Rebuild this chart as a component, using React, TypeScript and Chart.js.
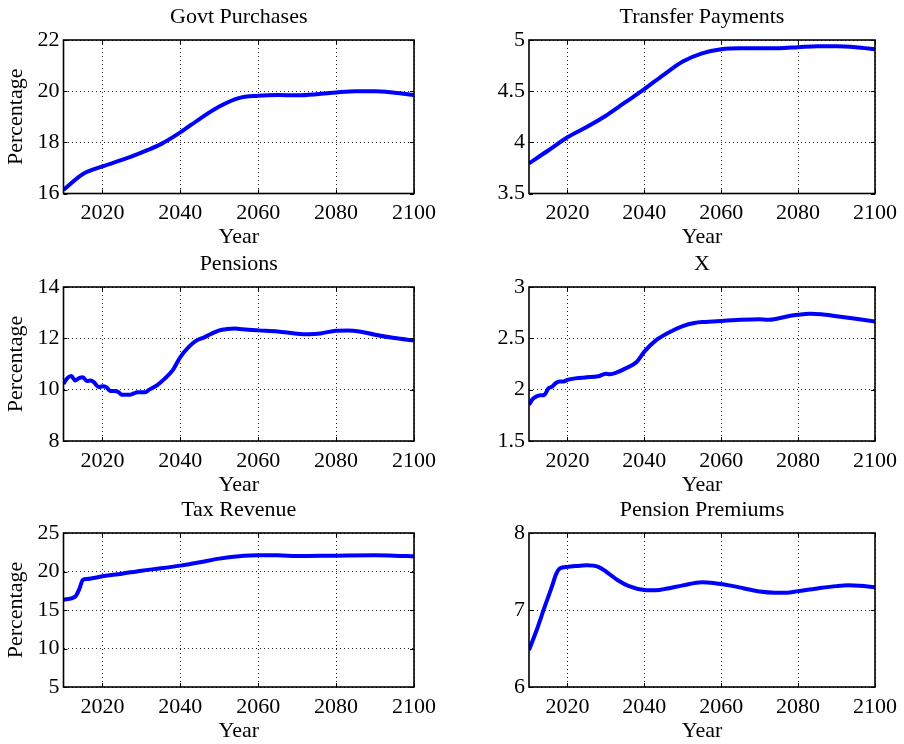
import React, { useEffect, useRef } from "react";
import { Chart, registerables } from "chart.js";

Chart.register(...registerables);

// ---------- data ----------
const xTickValues = [2020, 2040, 2060, 2080, 2100];

const govtYears = [2010, 2015, 2020, 2025, 2030, 2035, 2040, 2045, 2050, 2055, 2060, 2065, 2070, 2075, 2080, 2085, 2090, 2095, 2100];
const govtValues = [16.14, 16.76, 17.06, 17.31, 17.6, 17.93, 18.39, 18.92, 19.4, 19.73, 19.82, 19.85, 19.84, 19.88, 19.95, 20.0, 20.0, 19.94, 19.85];
const govtTicks = [16, 18, 20, 22];

const transferYears = [2010, 2015, 2020, 2025, 2030, 2035, 2040, 2045, 2050, 2055, 2060, 2065, 2070, 2075, 2080, 2085, 2090, 2095, 2100];
const transferValues = [3.795, 3.92, 4.05, 4.15, 4.26, 4.39, 4.52, 4.66, 4.79, 4.87, 4.91, 4.92, 4.92, 4.92, 4.93, 4.94, 4.94, 4.93, 4.91];
const transferTicks = [3.5, 4, 4.5, 5];

const pensionYears = [2010, 2011, 2012, 2013, 2014, 2015, 2016, 2017, 2018, 2019, 2020, 2021, 2022, 2023, 2024, 2025, 2026, 2027, 2028, 2029, 2030, 2031, 2032, 2034, 2036, 2038, 2040, 2042, 2044, 2046, 2048, 2050, 2052, 2054, 2056, 2060, 2065, 2070, 2073, 2076, 2080, 2083, 2086, 2090, 2095, 2100];
const pensionValues = [10.23, 10.45, 10.53, 10.36, 10.45, 10.48, 10.34, 10.36, 10.26, 10.1, 10.13, 10.1, 9.95, 9.95, 9.92, 9.8, 9.8, 9.8, 9.85, 9.9, 9.9, 9.9, 10.0, 10.17, 10.43, 10.75, 11.27, 11.64, 11.9, 12.03, 12.18, 12.31, 12.36, 12.38, 12.35, 12.31, 12.27, 12.18, 12.16, 12.19, 12.3, 12.31, 12.27, 12.14, 12.01, 11.92];
const pensionTicks = [8, 10, 12, 14];

const xYears = [2010, 2011, 2012, 2013, 2014, 2015, 2016, 2017, 2018, 2019, 2020, 2022, 2025, 2028, 2030, 2031, 2033, 2035, 2038, 2040, 2043, 2046, 2050, 2053, 2056, 2060, 2065, 2070, 2072, 2075, 2078, 2080, 2083, 2086, 2090, 2095, 2100];
const xValues = [1.854, 1.91, 1.935, 1.945, 1.95, 2.01, 2.03, 2.065, 2.08, 2.08, 2.095, 2.11, 2.12, 2.13, 2.155, 2.15, 2.17, 2.205, 2.27, 2.37, 2.48, 2.55, 2.62, 2.65, 2.66, 2.67, 2.68, 2.685, 2.68, 2.695, 2.72, 2.73, 2.74, 2.735, 2.715, 2.69, 2.665];
const xSeriesTicks = [1.5, 2, 2.5, 3];

const taxYears = [2010, 2013, 2014, 2015, 2016, 2020, 2025, 2030, 2035, 2040, 2045, 2050, 2055, 2060, 2065, 2070, 2080, 2090, 2095, 2100];
const taxValues = [16.34, 16.73, 17.64, 18.94, 19.03, 19.37, 19.72, 20.11, 20.41, 20.76, 21.19, 21.67, 21.97, 22.1, 22.1, 22.01, 22.06, 22.1, 22.06, 21.97];
const taxTicks = [5, 10, 15, 20, 25];

const premiumYears = [2010, 2012, 2014, 2016, 2017, 2018, 2020, 2022, 2025, 2028, 2030, 2033, 2036, 2040, 2043, 2046, 2050, 2055, 2058, 2062, 2066, 2070, 2074, 2077, 2080, 2085, 2090, 2093, 2096, 2100];
const premiumValues = [6.48, 6.74, 7.03, 7.31, 7.46, 7.54, 7.56, 7.57, 7.58, 7.56, 7.5, 7.39, 7.31, 7.26, 7.255, 7.28, 7.32, 7.36, 7.35, 7.32, 7.28, 7.24, 7.225, 7.225, 7.245, 7.28, 7.31, 7.32, 7.315, 7.295];
const premiumTicks = [6, 7, 8];

// ---------- layout ----------
const W = 904;
const H = 744;
const FONT = '"Liberation Serif", "Times New Roman", serif';
const FS = 22;

type Panel = {
  title: string;
  years: number[];
  values: number[];
  yTicks: number[];
  yLabel: boolean;
  rect: { left: number; right: number; top: number; bottom: number };
};

const LEFT_COL = { left: 63.5, right: 414 };
const RIGHT_COL = { left: 529, right: 879 };
const ROW1 = { top: 40, bottom: 193.5 };
const ROW2 = { top: 287, bottom: 441 };
const ROW3 = { top: 533, bottom: 687 };

const panels: Panel[] = [
  { title: "Govt Purchases", years: govtYears, values: govtValues, yTicks: govtTicks, yLabel: true, rect: { ...LEFT_COL, ...ROW1 } },
  { title: "Transfer Payments", years: transferYears, values: transferValues, yTicks: transferTicks, yLabel: false, rect: { ...RIGHT_COL, ...ROW1 } },
  { title: "Pensions", years: pensionYears, values: pensionValues, yTicks: pensionTicks, yLabel: true, rect: { ...LEFT_COL, ...ROW2 } },
  { title: "X", years: xYears, values: xValues, yTicks: xSeriesTicks, yLabel: false, rect: { ...RIGHT_COL, ...ROW2 } },
  { title: "Tax Revenue", years: taxYears, values: taxValues, yTicks: taxTicks, yLabel: true, rect: { ...LEFT_COL, ...ROW3 } },
  { title: "Pension Premiums", years: premiumYears, values: premiumValues, yTicks: premiumTicks, yLabel: false, rect: { ...RIGHT_COL, ...ROW3 } },
];

const Y_AXIS_W = 60;
const X_AXIS_H = 57;

const framePlugin = {
  id: "frame",
  afterDraw(chart: any, _args: any, opts: any) {
    const { ctx, chartArea } = chart;
    const { left, right, top, bottom } = chartArea;
    const xs = chart.scales.x;
    const ys = chart.scales.y;
    ctx.save();
    ctx.strokeStyle = "#000";
    ctx.lineWidth = 1;
    const tl = 4;
    ctx.beginPath();
    for (const v of xTickValues) {
      const px = Math.round(xs.getPixelForValue(v)) + 0.5;
      ctx.moveTo(px, bottom);
      ctx.lineTo(px, bottom - tl);
      ctx.moveTo(px, top);
      ctx.lineTo(px, top + tl);
    }
    for (const v of opts.yTicks as number[]) {
      const py = Math.round(ys.getPixelForValue(v)) + 0.5;
      ctx.moveTo(left, py);
      ctx.lineTo(left + tl, py);
      ctx.moveTo(right, py);
      ctx.lineTo(right - tl, py);
    }
    ctx.stroke();
    ctx.lineWidth = 1.6;
    ctx.strokeRect(left, top, right - left, bottom - top);
    ctx.fillStyle = "#000";
    ctx.font = `${FS}px ${FONT}`;
    ctx.textAlign = "center";
    ctx.textBaseline = "middle";
    ctx.fillText(opts.title, (left + right) / 2, top - 23);
    ctx.restore();
  },
};

function PanelChart({ panel }: { panel: Panel }) {
  const ref = useRef<HTMLCanvasElement | null>(null);
  useEffect(() => {
    if (!ref.current) return;
    const { rect, yTicks } = panel;
    const yMin = yTicks[0];
    const yMax = yTicks[yTicks.length - 1];
    const chart = new Chart(ref.current, {
      type: "line",
      data: {
        datasets: [
          {
            data: panel.years.map((x, i) => ({ x, y: panel.values[i] })),
            borderColor: "#0000FF",
            borderWidth: 4,
            pointRadius: 0,
            fill: false,
            cubicInterpolationMode: "monotone",
          },
        ],
      },
      plugins: [framePlugin],
      options: {
        animation: false,
        responsive: false,
        maintainAspectRatio: false,
        events: [],
        layout: {
          padding: {
            left: rect.left - Y_AXIS_W,
            right: W - rect.right,
            top: rect.top,
            bottom: H - rect.bottom - X_AXIS_H,
          },
        },
        plugins: {
          legend: { display: false },
          tooltip: { enabled: false },
          title: { display: false },
          frame: { title: panel.title, yTicks },
        } as any,
        scales: {
          x: {
            type: "linear",
            min: 2010,
            max: 2100,
            afterBuildTicks: (s: any) => {
              s.ticks = xTickValues.map((v) => ({ value: v }));
            },
            afterFit: (s: any) => {
              s.height = X_AXIS_H;
            },
            ticks: {
              color: "#000",
              font: { family: FONT, size: FS, lineHeight: 1.2 },
              padding: 7,
              maxRotation: 0,
              autoSkip: false,
              callback: (v: any) => String(v),
            },
            grid: { color: "#222", lineWidth: 1, drawTicks: false },
            border: { display: false, dash: [1, 3] },
            title: {
              display: true,
              text: "Year",
              color: "#000",
              font: { family: FONT, size: FS, lineHeight: 1 },
              padding: { top: 0, bottom: 2 },
            },
          },
          y: {
            type: "linear",
            min: yMin,
            max: yMax,
            afterBuildTicks: (s: any) => {
              s.ticks = yTicks.map((v) => ({ value: v }));
            },
            afterFit: (s: any) => {
              s.width = Y_AXIS_W;
            },
            ticks: {
              color: "#000",
              font: { family: FONT, size: FS, lineHeight: 1.2 },
              padding: 4,
              autoSkip: false,
              callback: (v: any) => String(v),
            },
            grid: { color: "#222", lineWidth: 1, drawTicks: false },
            border: { display: false, dash: [1, 3] },
            title: {
              display: panel.yLabel,
              text: "Percentage",
              color: "#000",
              font: { family: FONT, size: FS, lineHeight: 1 },
              padding: { top: 2, bottom: 0 },
            },
          },
        },
      } as any,
    });
    return () => chart.destroy();
  }, [panel]);
  return (
    <canvas
      ref={ref}
      width={W}
      height={H}
      style={{ position: "absolute", left: 0, top: 0, width: W, height: H }}
    />
  );
}

export default function App() {
  return (
    <div style={{ position: "absolute", left: 0, top: 0, width: W, height: H, background: "#fff" }}>
      {panels.map((p) => (
        <PanelChart key={p.title} panel={p} />
      ))}
    </div>
  );
}
